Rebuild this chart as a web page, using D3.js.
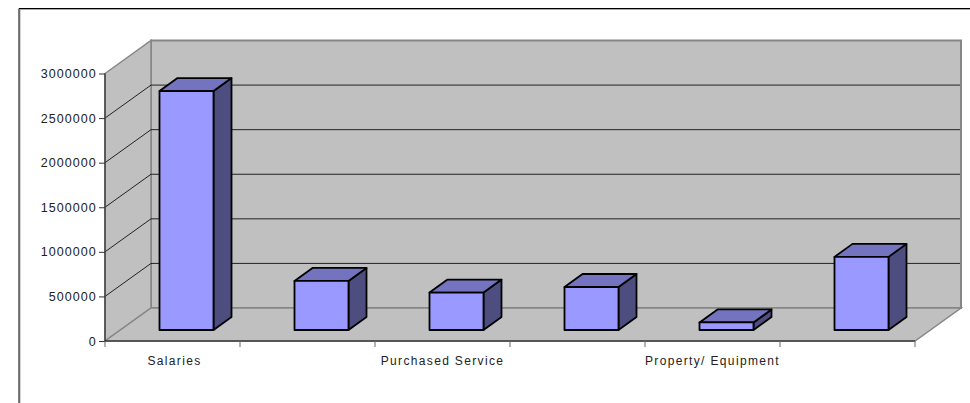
<!DOCTYPE html>
<html lang="en">
<head>
<meta charset="UTF-8">
<script src="https://d3js.org/d3.v7.min.js"></script>
<style>
    html, body { margin: 0; padding: 0; background: #fff; overflow: hidden; }
    text { font-family: "Liberation Sans", Arial, sans-serif; fill: #222; }
</style>
</head>
<body>
<div id="chart"></div>
<script>
    // values, every second category label is not shown there
    const categories = ["Salaries", "", "Purchased Service", "", "Property/ Equipment", ""];
    const amounts = [2680000, 550000, 420000, 482000, 85000, 820000];
    const yTicks = [0, 500000, 1000000, 1500000, 2000000, 2500000, 3000000];

    const width = 970, height = 403;

    // front floor edge and front axis
    const x = d3.scaleBand().domain(d3.range(categories.length)).range([105, 915]);
    const y = d3.scaleLinear().domain([0, 3000000]).range([341, 73.5]);

    // chart depth (wall offset) and bar depth
    const depth = { dx: 46, dy: -33 };
    const barDepth = { dx: 18, dy: -13 };
    const barInset = 11; // bars stand this far up the floor
    const barW = 54;

    const svg = d3.select("#chart").append("svg")
        .attr("width", width)
        .attr("height", height)
        .style("display", "block");

    // outer frame, only top and left show
    svg.append("path").attr("d", "M20,404V9.5H971").attr("fill", "none").attr("stroke", "#aaa").attr("stroke-width", 1);
    svg.append("path").attr("d", "M19,404V8.5H971").attr("fill", "none").attr("stroke", "#000").attr("stroke-width", 1);

    const x0 = x.range()[0], x1 = x.range()[1];
    const yTop = y(3000000), yBase = y(0);
    const pts = a => a.map(p => p.join(",")).join(" ");

    // back wall
    svg.append("polygon")
        .attr("points", pts([[x0 + depth.dx, yTop + depth.dy], [x1 + depth.dx, yTop + depth.dy], [x1 + depth.dx, yBase + depth.dy], [x0 + depth.dx, yBase + depth.dy]]))
        .attr("fill", "#c0c0c0").attr("stroke", "#868686").attr("stroke-width", 2);
    // side wall
    svg.append("polygon")
        .attr("points", pts([[x0, yTop], [x0 + depth.dx, yTop + depth.dy], [x0 + depth.dx, yBase + depth.dy], [x0, yBase]]))
        .attr("fill", "#c0c0c0").attr("stroke", "#868686").attr("stroke-width", 1.5);
    // floor
    svg.append("polygon")
        .attr("points", pts([[x0, yBase], [x0 + depth.dx, yBase + depth.dy], [x1 + depth.dx, yBase + depth.dy], [x1, yBase]]))
        .attr("fill", "#c0c0c0").attr("stroke", "#868686").attr("stroke-width", 1.5);

    // gridlines
    svg.append("g").selectAll("path")
        .data(yTicks.filter(d => d > 0 && d < 3000000))
        .join("path")
        .attr("d", d => `M${x0},${y(d)}L${x0 + depth.dx},${y(d) + depth.dy}H${x1 + depth.dx - 1}`)
        .attr("fill", "none")
        .attr("stroke", "#111")
        .attr("stroke-width", 0.9);

    // axes
    const yAxis = d3.axisLeft(y).tickValues(yTicks).tickFormat(d3.format("d")).tickSize(6).tickPadding(2.2);
    const yG = svg.append("g").attr("transform", `translate(${x0},0)`).call(yAxis);
    yG.selectAll("text").attr("font-size", 12.5).attr("font-family", null).attr("letter-spacing", 1.05);
    yG.selectAll("line").attr("stroke", "#333");
    yG.select(".domain").attr("stroke", "#444").attr("stroke-width", 1.5).attr("d", `M0,${yTop}V${yBase}`);

    const xEdge = d3.scaleLinear().domain([0, categories.length]).range([x0, x1]);
    const xG = svg.append("g").attr("transform", `translate(0,${yBase})`);
    xG.append("path").attr("d", `M${x0},0H${x1}`).attr("stroke", "#111").attr("stroke-width", 1);
    xG.selectAll("line").data(d3.range(categories.length + 1)).join("line")
        .attr("x1", d => xEdge(d)).attr("x2", d => xEdge(d))
        .attr("y1", 0).attr("y2", 6)
        .attr("stroke", "#666");
    xG.selectAll("text").data(categories).join("text")
        .attr("x", (d, i) => x(i) + x.bandwidth() / 2 + (i === 0 ? 2 : 0))
        .attr("y", 24)
        .attr("text-anchor", "middle")
        .attr("font-size", 12)
        .attr("letter-spacing", 1.35)
        .text(d => d);

    // bars
    const bars = svg.append("g").selectAll("g")
        .data(amounts)
        .join("g");

    const bx = (d, i) => x(i) + (x.bandwidth() - barW) / 2 + 14;
    const by0 = yBase - barInset;
    const bh = d => yBase - y(d);

    bars.append("polygon") // side
        .attr("points", (d, i) => pts([
            [bx(d, i) + barW, by0], [bx(d, i) + barW + barDepth.dx, by0 + barDepth.dy],
            [bx(d, i) + barW + barDepth.dx, by0 - bh(d) + barDepth.dy], [bx(d, i) + barW, by0 - bh(d)]]))
        .attr("fill", "#4d4d80");
    bars.append("polygon") // top
        .attr("points", (d, i) => pts([
            [bx(d, i), by0 - bh(d)], [bx(d, i) + barDepth.dx, by0 - bh(d) + barDepth.dy],
            [bx(d, i) + barW + barDepth.dx, by0 - bh(d) + barDepth.dy], [bx(d, i) + barW, by0 - bh(d)]]))
        .attr("fill", "#7373bf");
    bars.append("rect") // front
        .attr("x", bx)
        .attr("y", d => by0 - bh(d))
        .attr("width", barW)
        .attr("height", bh)
        .attr("fill", "#9999ff");
    bars.selectAll("polygon, rect")
        .attr("stroke", "#000")
        .attr("stroke-width", 1.8)
        .attr("stroke-linejoin", "round");
</script>
</body>
</html>
